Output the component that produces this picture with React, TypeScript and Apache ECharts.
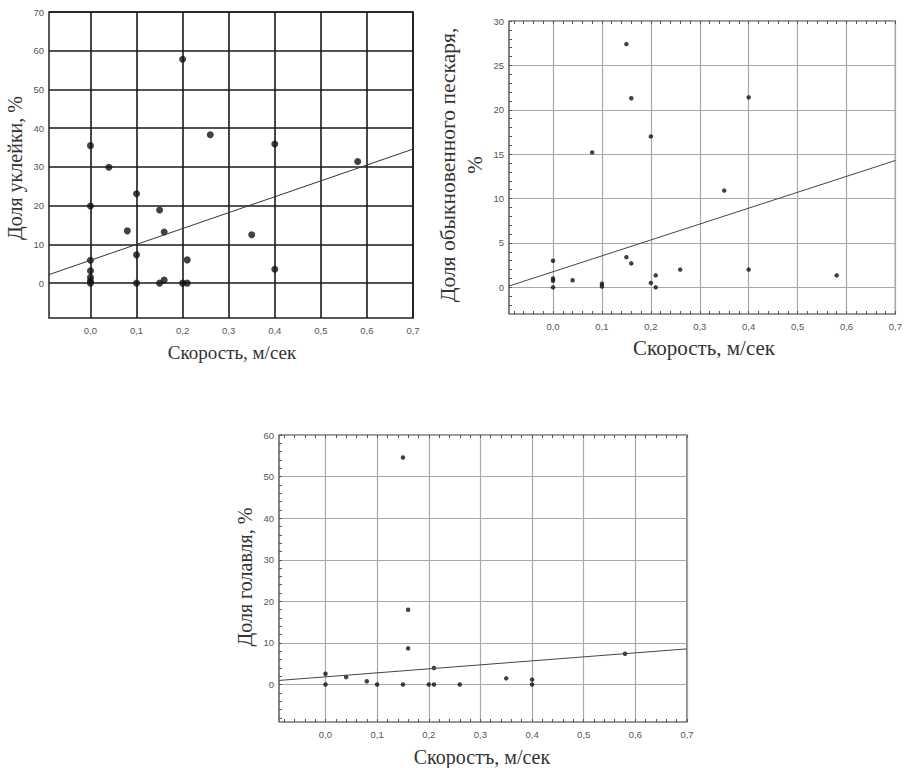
import React, { useEffect, useRef } from "react";
import * as echarts from "echarts";

// Shared speed axis (м/сек)
const X_MIN = -0.09;
const X_MAX = 0.7;
const xTickValues = [0, 0.1, 0.2, 0.3, 0.4, 0.5, 0.6, 0.7];

// Уклейка
const bleakSpeed = [0, 0, 0, 0, 0, 0, 0, 0.04, 0.08, 0.1, 0.1, 0.1, 0.15, 0.16, 0.15, 0.16, 0.2, 0.2, 0.21, 0.21, 0.26, 0.35, 0.4, 0.4, 0.58];
const bleakShare = [35.5, 19.9, 5.9, 3.2, 1.5, 0.6, 0, 29.9, 13.5, 23.1, 7.3, 0, 18.9, 13.2, 0, 0.8, 57.8, 0, 0, 6.0, 38.3, 12.5, 35.9, 3.6, 31.4];
const bleakFit = { intercept: 5.9, slope: 41 };
const bleakYTicks = [0, 10, 20, 30, 40, 50, 60, 70];

// Обыкновенный пескарь
const gudgeonSpeed = [0, 0, 0, 0, 0.04, 0.08, 0.1, 0.1, 0.15, 0.15, 0.16, 0.16, 0.2, 0.2, 0.21, 0.21, 0.26, 0.35, 0.4, 0.4, 0.58];
const gudgeonShare = [3.0, 1.0, 0.75, 0, 0.8, 15.2, 0.4, 0.1, 27.4, 3.4, 21.3, 2.7, 17.0, 0.5, 1.35, 0, 2.0, 10.9, 21.4, 2.0, 1.35];
const gudgeonFit = { intercept: 1.76, slope: 17.9 };
const gudgeonYTicks = [0, 5, 10, 15, 20, 25, 30];

// Голавль
const chubSpeed = [0, 0, 0.04, 0.08, 0.1, 0.15, 0.15, 0.16, 0.16, 0.2, 0.21, 0.21, 0.26, 0.35, 0.4, 0.4, 0.58];
const chubShare = [2.6, 0, 1.8, 0.8, 0, 54.6, 0, 18.0, 8.7, 0, 4.0, 0, 0, 1.5, 1.2, 0, 7.4];
const chubFit = { intercept: 1.86, slope: 9.6 };
const chubYTicks = [0, 10, 20, 30, 40, 50, 60];

const TICK_FONT = "Liberation Sans, Arial, sans-serif";
const TITLE_FONT = "Liberation Serif, Times New Roman, serif";

function steps(from: number, to: number, step: number): number[] {
  const out: number[] = [];
  const n = Math.round((to - from) / step);
  for (let i = 0; i <= n; i++) out.push(+(from + i * step).toFixed(4));
  return out;
}

const fmt = (v: number, d: number) => v.toFixed(d).replace(".", ",");

function mainX(gridIndex: number, gridColor: string, gridWidth: number) {
  return {
    type: "value",
    gridIndex,
    min: X_MIN,
    max: X_MAX,
    axisLine: { show: false, onZero: false },
    axisTick: { show: false, customValues: xTickValues },
    axisLabel: {
      customValues: xTickValues,
      formatter: (v: number) => fmt(v, 1),
      fontFamily: TICK_FONT,
      fontSize: 9.5,
      color: "#555",
      margin: 7,
    },
    splitLine: { show: true, lineStyle: { color: gridColor, width: gridWidth } },
  };
}

function mainY(gridIndex: number, min: number, max: number, ticks: number[], gridColor: string, gridWidth: number) {
  return {
    type: "value",
    gridIndex,
    min,
    max,
    axisLine: { show: false, onZero: false },
    axisTick: { show: false, customValues: ticks },
    axisLabel: {
      customValues: ticks,
      formatter: (v: number) => String(v),
      fontFamily: TICK_FONT,
      fontSize: 9.5,
      color: "#555",
      margin: 5,
    },
    splitLine: { show: true, lineStyle: { color: gridColor, width: gridWidth } },
  };
}

// Small inward ticks along the frame
function minorX(gridIndex: number, position: string, values: number[]) {
  return {
    type: "value",
    gridIndex,
    position,
    min: X_MIN,
    max: X_MAX,
    axisLine: { show: false, onZero: false },
    axisLabel: { show: false },
    splitLine: { show: false },
    axisTick: { show: true, inside: true, length: 3, customValues: values, lineStyle: { color: "#555", width: 1 } },
  };
}

function minorY(gridIndex: number, min: number, max: number, values: number[]) {
  return {
    type: "value",
    gridIndex,
    position: "left",
    min,
    max,
    axisLine: { show: false, onZero: false },
    axisLabel: { show: false },
    splitLine: { show: false },
    axisTick: { show: true, inside: true, length: 3, customValues: values, lineStyle: { color: "#555", width: 1 } },
  };
}

function points(xs: number[], ys: number[]) {
  return xs.map((x, i) => [x, ys[i]]);
}

function fitLine(fit: { intercept: number; slope: number }) {
  return [X_MIN, X_MAX].map((x) => [x, fit.intercept + fit.slope * x]);
}

export default function App() {
  const ref = useRef<HTMLDivElement>(null);

  useEffect(() => {
    if (!ref.current) return;
    const chart = echarts.init(ref.current, null, { renderer: "svg" });

    const minorXVals = steps(-0.08, 0.7, 0.02);

    chart.setOption({
      animation: false,
      backgroundColor: "#ffffff",
      grid: [
        { left: 49, top: 12, width: 364, height: 306, show: true, borderColor: "#222", borderWidth: 1.5, containLabel: false },
        { left: 509, top: 21, width: 390, height: 293, show: true, borderColor: "#333", borderWidth: 1.2, containLabel: false },
        { left: 279, top: 435, width: 408, height: 287, show: true, borderColor: "#333", borderWidth: 1.2, containLabel: false },
      ],
      xAxis: [
        mainX(0, "#1a1a1a", 1.6),
        mainX(1, "#a8a8a8", 1.2),
        mainX(2, "#a8a8a8", 1.2),
        minorX(1, "bottom", minorXVals),
        minorX(1, "top", minorXVals),
        minorX(2, "bottom", minorXVals),
        minorX(2, "top", minorXVals),
      ],
      yAxis: [
        mainY(0, -9, 70, bleakYTicks, "#1a1a1a", 1.6),
        mainY(1, -3, 30, gudgeonYTicks, "#a8a8a8", 1.2),
        mainY(2, -9, 60, chubYTicks, "#a8a8a8", 1.2),
        minorY(1, -3, 30, steps(-2, 30, 1)),
        minorY(2, -9, 60, steps(-8, 60, 2)),
      ],
      series: [
        {
          type: "line",
          xAxisIndex: 0,
          yAxisIndex: 0,
          data: fitLine(bleakFit),
          showSymbol: false,
          lineStyle: { color: "#333", width: 1 },
          silent: true,
        },
        {
          type: "scatter",
          xAxisIndex: 0,
          yAxisIndex: 0,
          data: points(bleakSpeed, bleakShare),
          symbolSize: 7,
          itemStyle: { color: "#111" },
        },
        {
          type: "line",
          xAxisIndex: 1,
          yAxisIndex: 1,
          data: fitLine(gudgeonFit),
          showSymbol: false,
          lineStyle: { color: "#444", width: 1 },
          silent: true,
        },
        {
          type: "scatter",
          xAxisIndex: 1,
          yAxisIndex: 1,
          data: points(gudgeonSpeed, gudgeonShare),
          symbolSize: 4.5,
          itemStyle: { color: "#111" },
        },
        {
          type: "line",
          xAxisIndex: 2,
          yAxisIndex: 2,
          data: fitLine(chubFit),
          showSymbol: false,
          lineStyle: { color: "#444", width: 1 },
          silent: true,
        },
        {
          type: "scatter",
          xAxisIndex: 2,
          yAxisIndex: 2,
          data: points(chubSpeed, chubShare),
          symbolSize: 4.5,
          itemStyle: { color: "#111" },
        },
      ],
      graphic: [
        {
          type: "text",
          x: 15,
          y: 168,
          rotation: Math.PI / 2,
          style: { text: "Доля уклейки, %", font: `20px ${TITLE_FONT}`, fill: "#333", align: "center", verticalAlign: "middle" },
        },
        {
          type: "text",
          x: 232,
          y: 352,
          style: { text: "Скорость, м/сек", font: `19px ${TITLE_FONT}`, fill: "#333", align: "center", verticalAlign: "middle" },
        },
        {
          type: "text",
          x: 448,
          y: 165,
          rotation: Math.PI / 2,
          style: { text: "Доля обыкновенного пескаря,", font: `21.5px ${TITLE_FONT}`, fill: "#333", align: "center", verticalAlign: "middle" },
        },
        {
          type: "text",
          x: 475,
          y: 165,
          rotation: Math.PI / 2,
          style: { text: "%", font: `21px ${TITLE_FONT}`, fill: "#333", align: "center", verticalAlign: "middle" },
        },
        {
          type: "text",
          x: 704,
          y: 348,
          style: { text: "Скорость, м/сек", font: `21px ${TITLE_FONT}`, fill: "#333", align: "center", verticalAlign: "middle" },
        },
        {
          type: "text",
          x: 245,
          y: 577,
          rotation: Math.PI / 2,
          style: { text: "Доля голавля, %", font: `20px ${TITLE_FONT}`, fill: "#333", align: "center", verticalAlign: "middle" },
        },
        {
          type: "text",
          x: 482,
          y: 757,
          style: { text: "Скоростъ, м/сек", font: `20px ${TITLE_FONT}`, fill: "#333", align: "center", verticalAlign: "middle" },
        },
      ],
    });

    return () => chart.dispose();
  }, []);

  return (
    <div
      ref={ref}
      style={{ position: "absolute", left: 0, top: 0, width: 905, height: 768, background: "#fff" }}
    />
  );
}
